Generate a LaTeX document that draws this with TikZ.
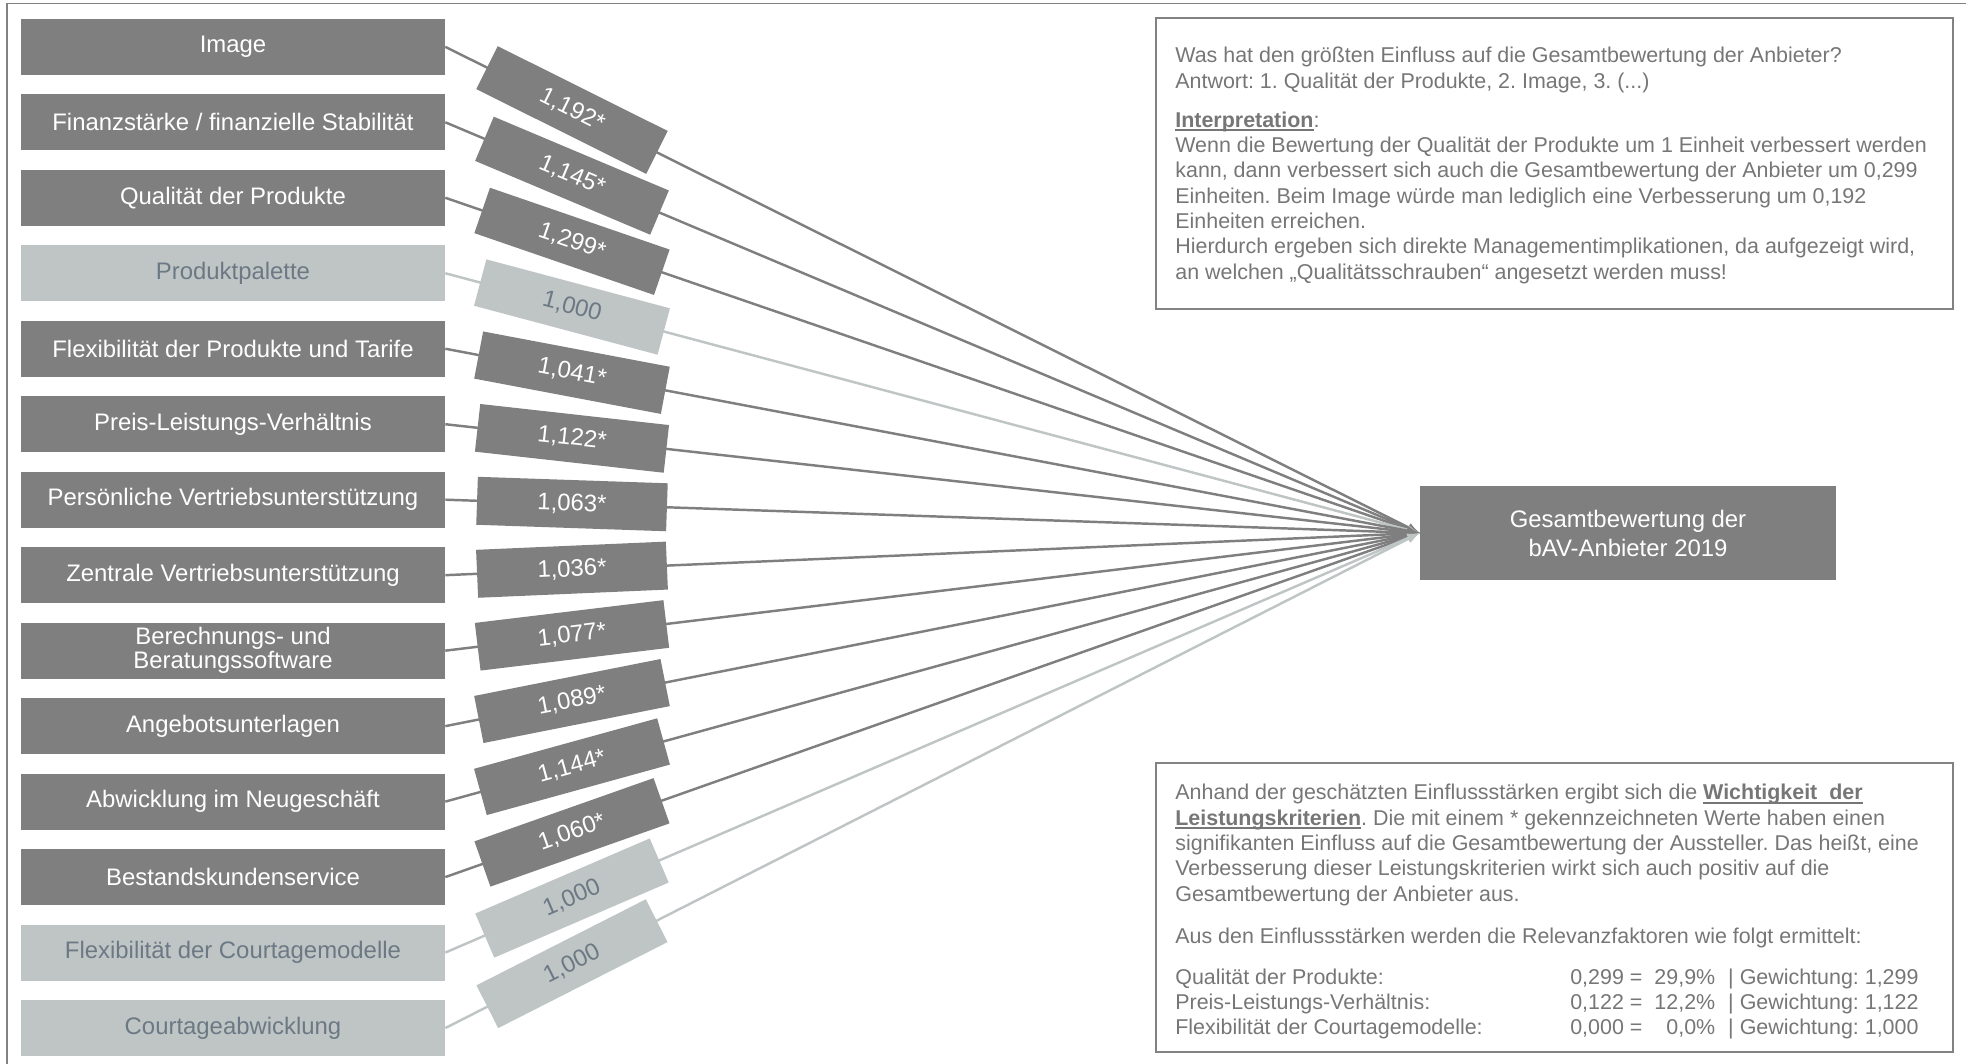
\documentclass[tikz,border=0pt]{standalone}
\usepackage{fontspec}
\setmainfont{Liberation Sans}
\frenchspacing
\definecolor{dk}{RGB}{127,127,127}
\definecolor{lt}{RGB}{191,197,197}
\definecolor{dktext}{RGB}{255,255,255}
\definecolor{lttext}{RGB}{108,121,132}
\definecolor{infotext}{RGB}{118,118,118}
\definecolor{rahmen}{RGB}{130,130,130}
\newcommand{\markiert}[1]{\begingroup\setbox0\hbox{\textbf{#1}}\rlap{\rule[-2.4pt]{\wd0}{1.1pt}}\box0\endgroup}
\begin{document}
\begin{tikzpicture}[>=latex,x=0.02cm,y=-0.02cm,
        crit/.style={minimum width=8.48cm,minimum height=1.12cm,inner sep=0pt,align=center,font=\fontsize{13.6}{13.8}\selectfont},
        gewicht/.style={minimum width=3.8cm,minimum height=0.96cm,inner sep=0pt,sloped,font=\fontsize{13.6}{14}\selectfont},
        pfeil/.style={->,line width=1.4pt},
        infobox/.style={draw=rahmen,line width=1pt,anchor=north west,inner sep=0pt},
        infotxt/.style={anchor=north west,inner sep=0pt,align=left,text=infotext,font=\fontsize{12.2}{14.4}\selectfont}]
    \useasboundingbox (0,0) rectangle (1966,1063);
    \draw[rahmen,line width=1.1pt] (7,1080) -- (7,3.5) -- (1980,3.5);
    \node[crit,fill=dk,text=white,minimum width=8.32cm,minimum height=1.88cm,font=\fontsize{13.6}{16.5}\selectfont] (ziel) at (1628,533) {Gesamtbewertung der\\bAV-Anbieter 2019};
    \foreach \i/\krit/\wert/\farbe in {1/Image/{1,192*}/dk,
            2/{Finanzstärke / finanzielle Stabilität}/{1,145*}/dk,
            3/Qualität der Produkte/{1,299*}/dk,
            4/Produktpalette/{1,000}/lt,
            5/Flexibilität der Produkte und Tarife/{1,041*}/dk,
            6/Preis-Leistungs-Verhältnis/{1,122*}/dk,
            7/Persönliche Vertriebsunterstützung/{1,063*}/dk,
            8/Zentrale Vertriebsunterstützung/{1,036*}/dk,
            9/{Berechnungs- und\\Beratungssoftware}/{1,077*}/dk,
            10/Angebotsunterlagen/{1,089*}/dk,
            11/Abwicklung im Neugeschäft/{1,144*}/dk,
            12/Bestandskundenservice/{1,060*}/dk,
            13/Flexibilität der Courtagemodelle/{1,000}/lt,
            14/Courtageabwicklung/{1,000}/lt}{
        \node[crit,fill=\farbe,text=\farbe text] (k\i) at (233,{46.8+(\i-1)*75.48}) {\krit};
        \draw[pfeil,draw=\farbe] (k\i.east) -- node[gewicht,fill=\farbe,text=\farbe text,pos=0.13] (w\i) {\wert} (ziel.west);
    }
    % Textkaesten rechts
    \node[infobox,minimum width=15.94cm,minimum height=5.82cm] (oben) at (1155,17) {};
    \node[infotxt] (frage) at (1175,47) {Was hat den größten Einfluss auf die Gesamtbewertung der Anbieter?\\
        Antwort: 1. Qualität der Produkte, 2. Image, 3. (...)\\[7.8pt]
        \markiert{Interpretation}:\\
        Wenn die Bewertung der Qualität der Produkte um 1 Einheit verbessert werden\\
        kann, dann verbessert sich auch die Gesamtbewertung der Anbieter um 0,299\\
        Einheiten. Beim Image würde man lediglich eine Verbesserung um 0,192\\
        Einheiten erreichen.\\
        Hierdurch ergeben sich direkte Managementimplikationen, da aufgezeigt wird,\\
        an welchen „Qualitätsschrauben“ angesetzt werden muss!};
    \node[infobox,minimum width=15.94cm,minimum height=5.78cm] (unten) at (1155,762) {};
    \node[infotxt] (relevanz) at (1175,784) {Anhand der geschätzten Einflussstärken ergibt sich die \markiert{Wichtigkeit\ \ der}\\
        \markiert{Leistungskriterien}. Die mit einem * gekennzeichneten Werte haben einen\\
        signifikanten Einfluss auf die Gesamtbewertung der Aussteller. Das heißt, eine\\
        Verbesserung dieser Leistungskriterien wirkt sich auch positiv auf die\\
        Gesamtbewertung der Anbieter aus.\\[10pt]
        Aus den Einflussstärken werden die Relevanzfaktoren wie folgt ermittelt:\\[8.5pt]
        \makebox[7.9cm][l]{Qualität der Produkte:}\makebox[1.44cm][l]{0,299 =}\makebox[1.46cm][r]{29,9\%}\hspace{0.26cm}| Gewichtung: 1,299\\
        \makebox[7.9cm][l]{Preis-Leistungs-Verhältnis:}\makebox[1.44cm][l]{0,122 =}\makebox[1.46cm][r]{12,2\%}\hspace{0.26cm}| Gewichtung: 1,122\\
        \makebox[7.9cm][l]{Flexibilität der Courtagemodelle:}\makebox[1.44cm][l]{0,000 =}\makebox[1.46cm][r]{0,0\%}\hspace{0.26cm}| Gewichtung: 1,000};
\end{tikzpicture}
\end{document}
